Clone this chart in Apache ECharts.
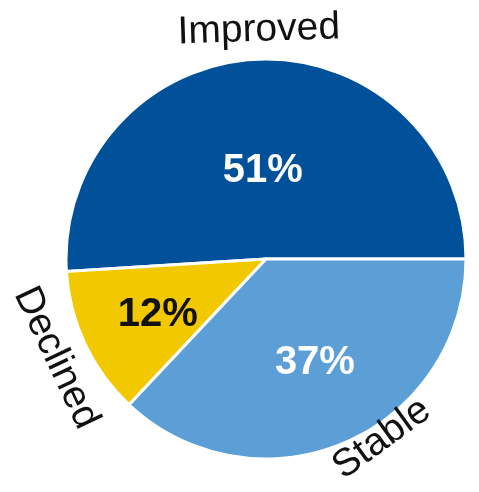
<!DOCTYPE html>
<html><head><meta charset="utf-8">
<script src="https://cdn.jsdelivr.net/npm/echarts@6/dist/echarts.min.js"></script>
<style>html,body{margin:0;padding:0;background:#fff}#c{width:479px;height:492px}</style>
</head><body><div id="c"></div>
<script>
const categories = ['Improved', 'Declined', 'Stable'];
const values = [51, 12, 37];
const colors = ['#00519a', '#f2c800', '#5b9fd6'];
const pctColors = ['#ffffff', '#111111', '#ffffff'];
const pctOffsets = [[0, 15], [-15, 12], [8, 9]];
const nameOffsets = [[0, 0], [0, 3], [38, -10]];
const nameRotates = ['tangential', 'tangential', 36];

const chart = echarts.init(document.getElementById('c'));
const center = [266, 259];
const font = '"Liberation Sans", Arial, sans-serif';
chart.setOption({
  animation: false,
  series: [
    {
      type: 'pie', center, radius: [0, 200], startAngle: 0, clockwise: false,
      data: categories.map((n, i) => ({
        name: n, value: values[i],
        itemStyle: { color: colors[i] },
        label: { color: pctColors[i], offset: pctOffsets[i] }
      })),
      itemStyle: { borderColor: '#fff', borderWidth: 3 },
      label: { position: 'inside', formatter: '{c}%', fontSize: 40, fontWeight: 'bold', fontFamily: font },
      labelLine: { show: false }
    },
    {
      type: 'pie', center, radius: [200, 252], startAngle: 0, clockwise: false, silent: true,
      data: categories.map((n, i) => ({ name: n, value: values[i],
        label: { rotate: nameRotates[i], offset: nameOffsets[i] } })),
      itemStyle: { color: 'rgba(0,0,0,0)' },
      label: { position: 'inside', formatter: '{b}', fontSize: 39, color: '#111', fontFamily: font },
      labelLine: { show: false }
    }
  ]
});
</script></body></html>
